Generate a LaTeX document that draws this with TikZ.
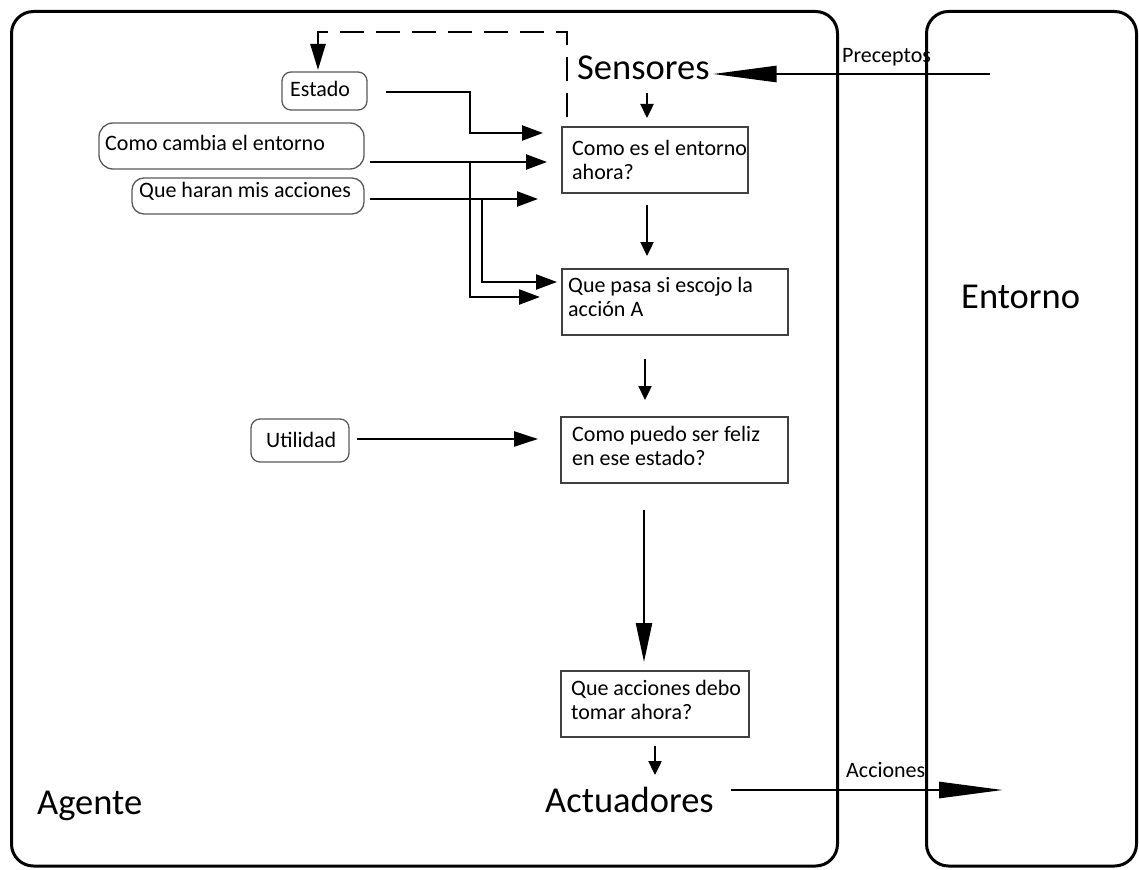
\documentclass[tikz,border=0pt]{standalone}
\usepackage{fontspec}
\setmainfont{Carlito}
\usetikzlibrary{arrows.meta,calc}
% two left-aligned lines whose first baseline is the node baseline
\newcommand{\qlines}[2]{\begin{tabular}[t]{@{}l@{}}#1\\#2\end{tabular}}
\begin{document}
\begin{tikzpicture}[x=1pt,y=-1pt,
  frame/.style={draw=black, line width=3pt, rounded corners=22pt, inner sep=0pt, outer sep=0pt, anchor=north west},
  qbox/.style={draw=black!75, line width=1.4pt, inner sep=0pt, outer sep=0pt, anchor=north west},
  kbox/.style={draw=black!65, line width=1.3pt, rounded corners=9pt, inner sep=0pt, outer sep=0pt, anchor=north west},
  bigtxt/.style={font=\fontsize{36.5}{43}\selectfont, inner sep=0pt, anchor=base west},
  smalltxt/.style={font=\fontsize{22}{24}\selectfont, inner sep=0pt, anchor=base west},
  lbl/.style={font=\fontsize{22}{24}\selectfont, inner sep=0pt, anchor=base west},
  flow/.style={draw=black, line width=2.4pt},
  tipL/.style={-{Triangle[length=64pt,width=16pt]}},
  tipM/.style={-{Triangle[length=21pt,width=15pt]}},
  tipU/.style={-{Triangle[length=24pt,width=15pt]}},
  tipD/.style={-{Triangle[length=26pt,width=15pt]}},
  tipS/.style={-{Triangle[length=14pt,width=13pt]}},
  tipB/.style={-{Triangle[length=39pt,width=16pt]}}
]
\useasboundingbox (0,0) rectangle (1139,869);

% outer frames
\node[frame, minimum width=826pt, minimum height=854.5pt] (agente) at (11.5,11.5) {};
\node[frame, minimum width=210pt, minimum height=854.5pt] (entorno) at (926.5,11.5) {};

% large labels
\node[bigtxt] (sensores) at (577,80) {Sensores};
\node[bigtxt] (actuadores) at (545,812) {Actuadores};
\node[bigtxt] (agenteT) at (37,814) {Agente};
\node[bigtxt] (entornoT) at (961,308) {Entorno};

% flow labels
\node[lbl] (preceptos) at (842,63) {Preceptos};
\node[lbl] (acciones) at (846,777) {Acciones};

% question boxes
\node[qbox, minimum width=186pt, minimum height=66pt] (b1) at (562,127) {};
\node[smalltxt] (t1) at ($(b1.north west)+(10,29)$) {\qlines{Como es el entorno}{ahora?}};
\node[qbox, minimum width=226pt, minimum height=66pt] (b2) at (562,269) {};
\node[smalltxt] (t2) at ($(b2.north west)+(6,23)$) {\qlines{Que pasa si escojo la}{acción A}};
\node[qbox, minimum width=227pt, minimum height=66pt] (b3) at (561,417) {};
\node[smalltxt] (t3) at ($(b3.north west)+(11,24)$) {\qlines{Como puedo ser feliz}{en ese estado?}};
\node[qbox, minimum width=188pt, minimum height=66pt] (b4) at (561,671) {};
\node[smalltxt] (t4) at ($(b4.north west)+(10,24)$) {\qlines{Que acciones debo}{tomar ahora?}};

% knowledge boxes
\node[kbox, minimum width=85pt, minimum height=38pt] (estado) at (282,72) {};
\node[lbl] (estadoT) at (290,97) {Estado};
\node[kbox, rounded corners=14pt, minimum width=265pt, minimum height=46pt] (cambia) at (99,123) {};
\node[lbl] (cambiaT) at (105,150) {Como cambia el entorno};
\node[kbox, rounded corners=12pt, minimum width=232pt, minimum height=36pt] (haran) at (132,178) {};
\node[lbl] (haranT) at (139,197) {Que haran mis acciones};
\node[kbox, minimum width=98pt, minimum height=43pt] (utilidad) at (251,419) {};
\node[lbl] (utilidadT) at (266,447) {Utilidad};

% percepts and actions
\coordinate (pc) at ($(entorno.north west)+(63.5,62.5)$);
\draw[flow, line width=2.8pt, tipL] (pc) -- ($(sensores.base east)+(3,-6)$);
\coordinate (ac) at ($(entorno.north west)+(76.5,778.5)$);
\draw[flow, line width=2.8pt, tipL] ($(actuadores.base east)+(17,-22)$) -- (ac);

% state feedback
\draw[flow, dash pattern=on 24pt off 12pt, tipD]
  ($(b1.north west)+(5,-10)$) |- ($(estado.north)+(-6.5,-40)$) -- ($(estado.north)+(-6.5,-2)$);

% knowledge into the reasoning boxes
\draw[flow, tipM] ($(estado.east)+(19,1)$) -| ($(b1.north west)+(-92,6)$) -- ($(b1.north west)+(-19,6)$);
\draw[flow, tipM] ($(cambia.east)+(6,16)$) -- ($(b1.north west)+(-15,35)$);
\draw[flow, tipM] ($(b1.north west)+(-92,35)$) |- ($(b2.north west)+(-22,28)$);
\draw[flow, tipM] ($(haran.east)+(6,3)$) -- ($(b1.north west)+(-24,72)$);
\draw[flow, tipM] ($(b1.north west)+(-80,72)$) |- ($(b2.north west)+(-5,13)$);
\draw[flow, tipU] ($(utilidad.east)+(8,-1.5)$) -- ($(b3.north west)+(-23,22)$);

% main chain
\draw[flow, tipS] ($(b1.north west)+(85,-34)$) -- ($(b1.north west)+(85,-9)$);
\draw[flow, tipS] ($(b1.south west)+(85,12)$) -- ($(b2.north west)+(85,-13)$);
\draw[flow, tipS] ($(b2.south west)+(83,24)$) -- ($(b3.north west)+(84,-17)$);
\draw[flow, tipB] ($(b3.south west)+(83,27)$) -- ($(b4.north west)+(83,-9)$);
\draw[flow, tipS] ($(b4.south west)+(94,9)$) -- ($(b4.south west)+(94,38)$);
\end{tikzpicture}
\end{document}
